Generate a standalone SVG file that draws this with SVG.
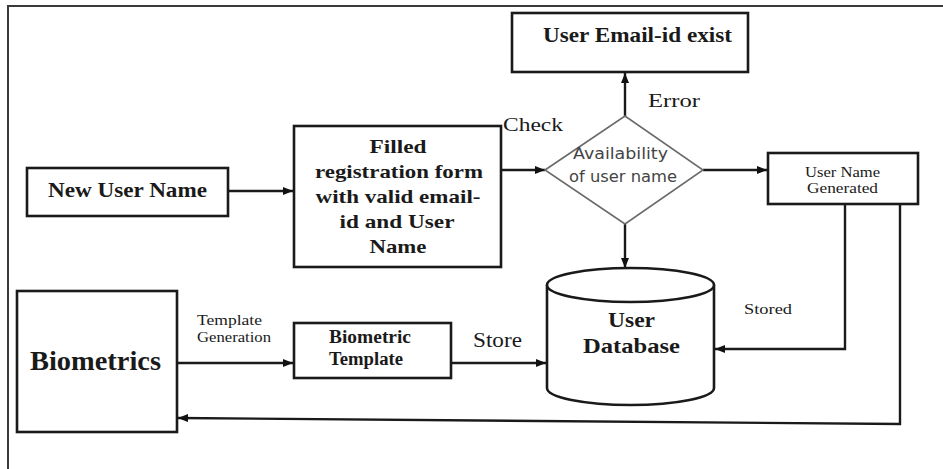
<svg xmlns="http://www.w3.org/2000/svg" width="943" height="469" viewBox="0 0 943 469">
<defs>
<marker id="ah" viewBox="0 0 10 8" refX="10" refY="4" markerWidth="10" markerHeight="8" markerUnits="userSpaceOnUse" orient="auto">
<path d="M0,0 L10,4 L0,8 Z" fill="#111"/>
</marker>
<style>
.box{fill:#fff;stroke:#1a1a1a;stroke-width:2.6}
.con{fill:none;stroke:#1a1a1a;stroke-width:2.4}
.b{font-family:"Liberation Serif","Times New Roman",serif;font-weight:bold;fill:#1a1a1a}
.r{font-family:"Liberation Serif","Times New Roman",serif;fill:#1a1a1a}
.s{font-family:"DejaVu Sans",Verdana,sans-serif;fill:#444}
</style>
</defs>
<rect width="943" height="469" fill="#fff"/>
<g id="frame">
<path d="M8,469 L8,6 L943,6" fill="none" stroke="#3a3a3a" stroke-width="2"/>
</g>
<g id="connectors">
<path class="con" d="M228,191 L293,191" marker-end="url(#ah)"/>
<path class="con" d="M501,170 L545,170" marker-end="url(#ah)"/>
<path class="con" d="M625,116 L625,73" marker-end="url(#ah)"/>
<path class="con" d="M703,170 L767,170" marker-end="url(#ah)"/>
<path class="con" d="M625,224 L625,268" marker-end="url(#ah)"/>
<path class="con" d="M845,204 L845,349 L715,349" marker-end="url(#ah)"/>
<path class="con" d="M900,204 L900,424 L178,418" marker-end="url(#ah)"/>
<path class="con" d="M177,363 L293,363" marker-end="url(#ah)"/>
<path class="con" d="M451,363 L546,363" marker-end="url(#ah)"/>
<text class="r" x="503" y="131" font-size="19" textLength="60" lengthAdjust="spacingAndGlyphs">Check</text>
<text class="r" x="648" y="107" font-size="19" textLength="52" lengthAdjust="spacingAndGlyphs">Error</text>
<text class="r" x="473" y="347" font-size="20" textLength="49" lengthAdjust="spacingAndGlyphs">Store</text>
<text class="r" x="744" y="314" font-size="15" textLength="48" lengthAdjust="spacingAndGlyphs">Stored</text>
<text class="r" x="197" y="325" font-size="14" textLength="65" lengthAdjust="spacingAndGlyphs">Template</text>
<text class="r" x="197" y="342" font-size="14" textLength="74" lengthAdjust="spacingAndGlyphs">Generation</text>
</g>
<g id="new-user-name">
<rect class="box" x="27" y="168" width="201" height="48"/>
<text class="b" x="48" y="197" font-size="21" textLength="159" lengthAdjust="spacingAndGlyphs">New User Name</text>
</g>
<g id="registration-form">
<rect class="box" x="294" y="126" width="207" height="141"/>
<g class="b" font-size="19" text-anchor="middle">
<text x="398" y="153" textLength="57" lengthAdjust="spacingAndGlyphs">Filled</text>
<text x="399" y="178" textLength="168" lengthAdjust="spacingAndGlyphs">registration form</text>
<text x="398" y="203" textLength="165" lengthAdjust="spacingAndGlyphs">with valid email-</text>
<text x="397" y="228" textLength="115" lengthAdjust="spacingAndGlyphs">id and User</text>
<text x="398" y="253" textLength="57" lengthAdjust="spacingAndGlyphs">Name</text>
</g>
</g>
<g id="email-exists">
<rect class="box" x="512" y="13" width="236" height="59"/>
<text class="b" x="543" y="42" font-size="21" textLength="189" lengthAdjust="spacingAndGlyphs">User Email-id exist</text>
</g>
<g id="availability">
<path d="M545,170 L625,116 L703,170 L625,224 Z" fill="#fff" stroke="#6a6a6a" stroke-width="1.6"/>
<text class="s" x="573" y="159" font-size="16" textLength="95" lengthAdjust="spacingAndGlyphs">Availability</text>
<text class="s" x="569" y="182" font-size="16" textLength="108" lengthAdjust="spacingAndGlyphs">of user name</text>
</g>
<g id="user-name-generated">
<rect class="box" x="768" y="153" width="150" height="51"/>
<text class="r" x="805" y="177" font-size="15" textLength="75" lengthAdjust="spacingAndGlyphs">User Name</text>
<text class="r" x="807" y="193" font-size="15" textLength="71" lengthAdjust="spacingAndGlyphs">Generated</text>
</g>
<g id="user-database">
<path d="M547,285 L547,388 A83.5,17 0 0 0 714,388 L714,285" fill="#fff" stroke="#1a1a1a" stroke-width="2.6"/>
<ellipse cx="630.5" cy="285" rx="83.5" ry="17" fill="#fff" stroke="#1a1a1a" stroke-width="2.6"/>
<text class="b" x="608" y="327" font-size="21" textLength="47" lengthAdjust="spacingAndGlyphs">User</text>
<text class="b" x="583" y="353" font-size="21" textLength="97" lengthAdjust="spacingAndGlyphs">Database</text>
</g>
<g id="biometrics">
<rect class="box" x="17" y="291" width="160" height="141"/>
<text class="b" x="30" y="370" font-size="28" textLength="131" lengthAdjust="spacingAndGlyphs">Biometrics</text>
</g>
<g id="biometric-template">
<rect class="box" x="294" y="323" width="157" height="55"/>
<text class="b" x="329" y="343" font-size="18" textLength="82" lengthAdjust="spacingAndGlyphs">Biometric</text>
<text class="b" x="329" y="365" font-size="18" textLength="74" lengthAdjust="spacingAndGlyphs">Template</text>
</g>
</svg>
